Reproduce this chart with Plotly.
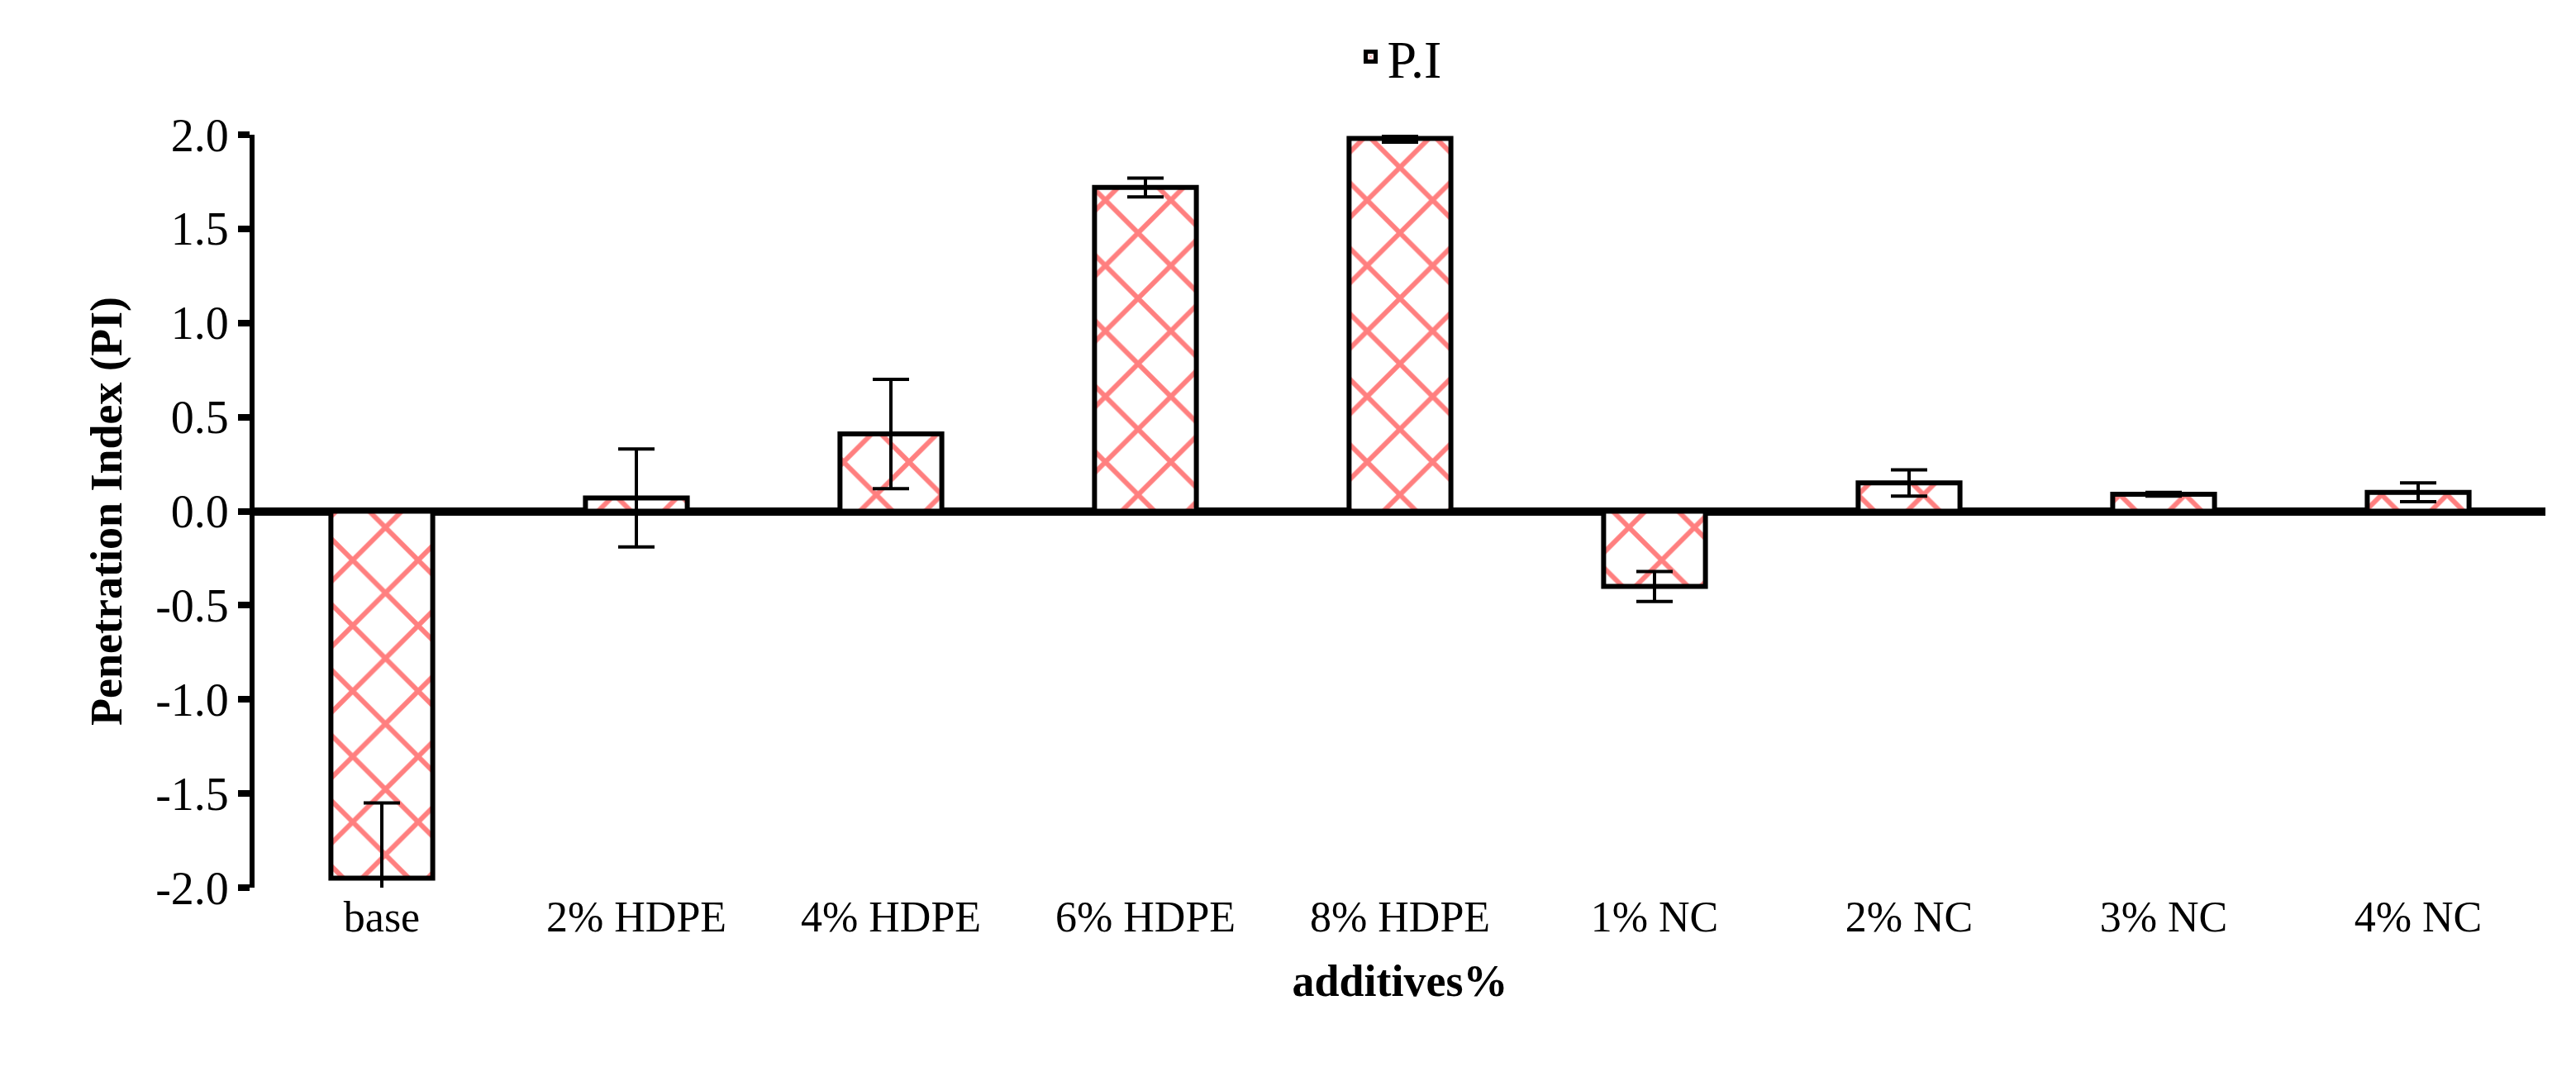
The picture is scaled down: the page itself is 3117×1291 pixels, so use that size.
import plotly.graph_objects as go

categories = ["base", "2% HDPE", "4% HDPE", "6% HDPE", "8% HDPE", "1% NC", "2% NC", "3% NC", "4% NC"]
pi_values = [-1.95, 0.07, 0.41, 1.72, 1.98, -0.40, 0.15, 0.09, 0.10]
pi_errors = [0.40, 0.26, 0.29, 0.05, 0.02, 0.08, 0.07, 0.01, 0.05]
y_ticks = [-2.0, -1.5, -1.0, -0.5, 0.0, 0.5, 1.0, 1.5, 2.0]
y_tick_labels = ["-2.0", "-1.5", "-1.0", "-0.5", "0.0", "0.5", "1.0", "1.5", "2.0"]

font = "Liberation Serif"
fig = go.Figure(go.Bar(
    x=categories, y=pi_values, name="P.I", width=0.4,
    marker=dict(color="white", line=dict(color="black", width=6),
                pattern=dict(shape="x", fgcolor="red", bgcolor="white", size=56, solidity=0.2)),
    error_y=dict(type="data", array=pi_errors, color="black", thickness=4, width=22),
    showlegend=True,
))
fig.update_layout(
    width=3117, height=1291, paper_bgcolor="white", plot_bgcolor="white",
    margin=dict(l=300, r=45, t=150, b=225),
    font=dict(family=font, size=54, color="black"),
    legend=dict(orientation="h", x=0.5, xanchor="center", y=1.05, yanchor="bottom",
                font=dict(size=64)),
)
fig.update_xaxes(showline=False, ticks="", showgrid=False, tickfont=dict(size=52),
                 title=dict(text="<b>additives%</b>", font=dict(size=54), standoff=30))
fig.update_yaxes(range=[-2, 2], tickvals=y_ticks, ticktext=y_tick_labels, showgrid=False,
                 showline=True, linecolor="black", linewidth=6, ticks="outside",
                 ticklen=14, tickwidth=8, tickcolor="black",
                 zeroline=True, zerolinecolor="black", zerolinewidth=10,
                 tickfont=dict(size=56),
                 title=dict(text="<b>Penetration Index (PI)</b>", font=dict(size=54), standoff=25))
fig.write_html("out.html")
